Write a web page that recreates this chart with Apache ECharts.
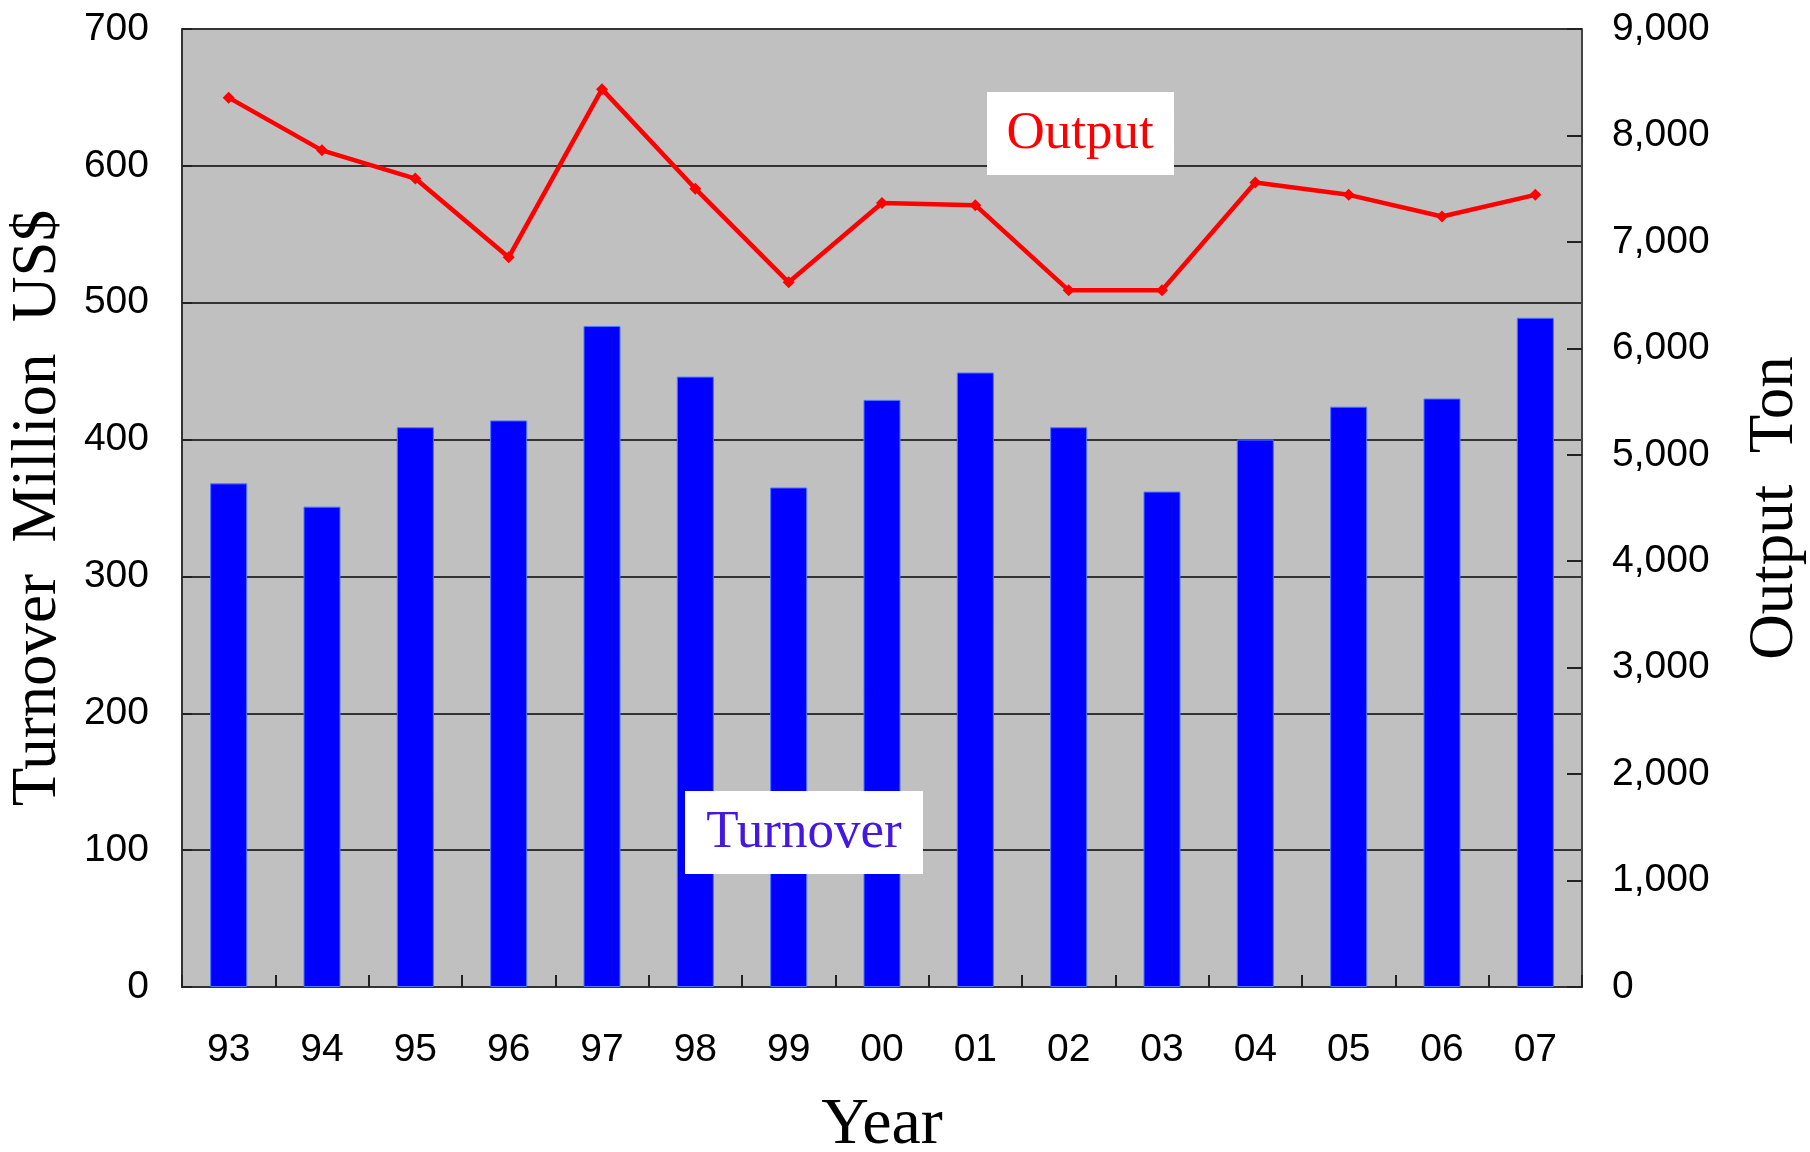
<!DOCTYPE html>
<html>
<head>
<meta charset="utf-8">
<script src="https://cdn.jsdelivr.net/npm/echarts@6/dist/echarts.min.js"></script>
<style>
html,body{margin:0;padding:0;background:#fff;}
#chart{width:1810px;height:1152px;}
</style>
</head>
<body>
<div id="chart"></div>
<script>
const years = ['93','94','95','96','97','98','99','00','01','02','03','04','05','06','07'];
const turnover = [368, 351, 409, 414, 483, 446, 365, 429, 449, 409, 362, 400, 424, 430, 489];
const output = [8355, 7860, 7595, 6855, 8435, 7500, 6620, 7365, 7345, 6545, 6545, 7558, 7442, 7238, 7442];
const leftTicks = {min: 0, max: 700, interval: 100};
const rightTicks = {min: 0, max: 9000, interval: 1000};

const chart = echarts.init(document.getElementById('chart'), null, {renderer: 'canvas'});
const serif = '"Liberation Serif", "Times New Roman", serif';
const sans = '"Liberation Sans", Arial, sans-serif';

chart.setOption({
  animation: false,
  backgroundColor: '#ffffff',
  grid: {
    left: 182, top: 29, width: 1400, height: 958,
    outerBoundsMode: 'none',
    containLabel: false,
    show: true, backgroundColor: '#c0c0c0', borderColor: '#8a8a8a', borderWidth: 1
  },
  xAxis: {
    type: 'category',
    data: years,
    boundaryGap: true,
    name: 'Year',
    nameLocation: 'middle',
    nameGap: 106,
    nameTextStyle: {fontFamily: serif, fontSize: 66, color: '#000'},
    axisLine: {show: true, lineStyle: {color: '#333', width: 2}},
    axisTick: {show: true, inside: true, length: 12, alignWithLabel: false, lineStyle: {color: '#222', width: 2}},
    axisLabel: {margin: 44, fontFamily: sans, fontSize: 39, color: '#000'},
    splitLine: {show: false}
  },
  yAxis: [
    {
      type: 'value',
      min: leftTicks.min, max: leftTicks.max, interval: leftTicks.interval,
      position: 'left',
      name: 'Turnover  Million  US$',
      nameLocation: 'middle',
      nameGap: 112,
      nameTextStyle: {fontFamily: serif, fontSize: 63, color: '#000'},
      axisLine: {show: true, lineStyle: {color: '#333', width: 2}},
      axisTick: {show: true, inside: true, length: 10, lineStyle: {color: '#222', width: 2}},
      axisLabel: {margin: 33, fontFamily: sans, fontSize: 39, color: '#000'},
      splitLine: {show: true, lineStyle: {color: '#333', width: 2}}
    },
    {
      type: 'value',
      min: rightTicks.min, max: rightTicks.max, interval: rightTicks.interval,
      position: 'right',
      name: 'Output  Ton',
      nameLocation: 'middle',
      nameGap: 162,
      nameTextStyle: {fontFamily: serif, fontSize: 63, color: '#000'},
      axisLine: {show: true, lineStyle: {color: '#444', width: 2}},
      axisTick: {show: true, inside: true, length: 15, lineStyle: {color: '#222', width: 2}},
      axisLabel: {
        margin: 30, fontFamily: sans, fontSize: 39, color: '#000',
        formatter: function (v) { return v.toLocaleString('en-US'); }
      },
      splitLine: {show: false}
    }
  ],
  series: [
    {
      name: 'Turnover',
      type: 'bar',
      yAxisIndex: 0,
      data: turnover,
      barWidth: 37,
      itemStyle: {color: '#0000ff', borderColor: '#4a78ff', borderWidth: 1}
    },
    {
      name: 'Output',
      type: 'line',
      yAxisIndex: 1,
      data: output,
      symbol: 'diamond',
      symbolSize: 12,
      lineStyle: {color: '#ff0000', width: 4.5},
      itemStyle: {color: '#ff0000'},
      z: 5
    }
  ],
  graphic: [
    {
      type: 'rect', z: 100,
      shape: {x: 987, y: 92, width: 187, height: 83},
      style: {fill: '#ffffff'}
    },
    {
      type: 'text', z: 101,
      x: 1080, y: 134,
      style: {text: 'Output', fill: '#ff0000', font: '53px ' + serif, textAlign: 'center', textVerticalAlign: 'middle'}
    },
    {
      type: 'rect', z: 100,
      shape: {x: 685, y: 791, width: 238, height: 83},
      style: {fill: '#ffffff'}
    },
    {
      type: 'text', z: 101,
      x: 804, y: 833,
      style: {text: 'Turnover', fill: '#4418e0', font: '53px ' + serif, textAlign: 'center', textVerticalAlign: 'middle'}
    }
  ]
});
</script>
</body>
</html>
